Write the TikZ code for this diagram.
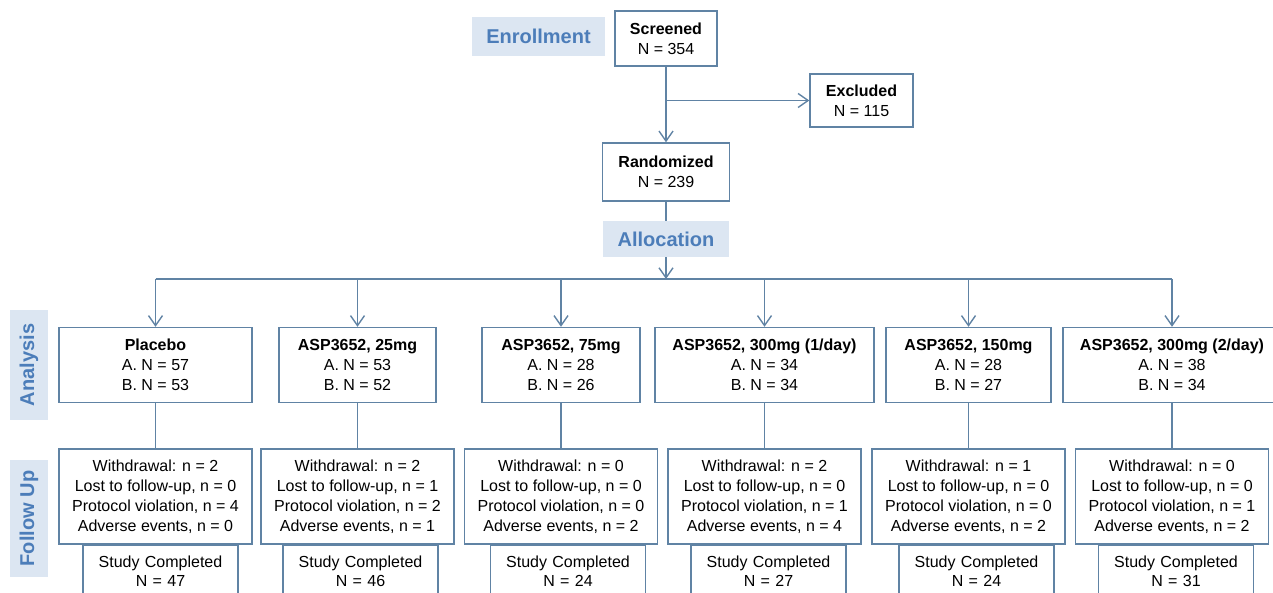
\documentclass[tikz,border=0pt]{standalone}
\usepackage{fontspec}
\setmainfont{Liberation Sans}
\usetikzlibrary{shapes,calc,positioning,arrows.meta}
\definecolor{flowline}{RGB}{96,131,164}
\definecolor{stagefill}{RGB}{220,230,242}
\definecolor{stagetext}{RGB}{76,125,185}
\tikzset{
  box/.style={draw=flowline,line width=1.4pt,fill=white,align=center,inner sep=0pt,
    font=\fontsize{16}{20}\selectfont},
  stage/.style={fill=stagefill,text=stagetext,inner sep=0pt,
    font=\fontsize{20}{24}\selectfont\bfseries},
  study/.style={draw=flowline,line width=1.4pt,align=center,text width=155pt,
    inner xsep=0pt,inner ysep=11pt,text depth=40pt,font=\fontsize{16}{19}\selectfont},
  conn/.style={draw=flowline,line width=1.4pt}
}

\begin{document}
\begin{tikzpicture}[x=1pt,y=1pt,node distance=100pt,>={Straight Barb[length=10pt,width=14pt]}]
    \useasboundingbox (0,0) rectangle (1273,-593);
    \clip (0,0) rectangle (1273,-593);
    \node[box,minimum width=102pt,minimum height=55pt] (screened) at (666,-38.5) {\textbf{Screened}\\N = 354};
    \node[stage,minimum width=133pt,minimum height=39pt] (enroll) at (538.5,-36.5) {Enrollment};
    \node[box,minimum width=103pt,minimum height=53pt] (excluded) at (861.5,-100.5) {\textbf{Excluded}\\N = 115};
    \node[box,below of=screened,node distance=133.5pt,minimum width=127pt,minimum height=58pt] (rand) {\textbf{Randomized}\\N = 239};
    \coordinate[below of=rand,node distance=107pt] (split);
    \node[stage,rotate=90,minimum width=110pt,minimum height=38pt] (analysis) at (29,-365) {Analysis};
    \node[stage,rotate=90,minimum width=117pt,minimum height=38pt] (followup) at (29,-518.5) {Follow Up};
    %
    \node[box,minimum width=193pt,minimum height=75pt] (an_plac) at (155.5,-365) {\textbf{Placebo}\\A. N = 57\\B. N = 53};
    \node[box,minimum width=157pt,minimum height=75pt] (an_d25) at (357.5,-365) {\textbf{ASP3652, 25mg}\\A. N = 53\\B. N = 52};
    \node[box,minimum width=158pt,minimum height=75pt] (an_d75) at (561,-365) {\textbf{ASP3652, 75mg}\\A. N = 28\\B. N = 26};
    \node[box,minimum width=219pt,minimum height=75pt] (an_d300a) at (764.5,-365) {\textbf{ASP3652, 300mg (1/day)}\\A. N = 34\\B. N = 34};
    \node[box,minimum width=165pt,minimum height=75pt] (an_d150) at (968.5,-365) {\textbf{ASP3652, 150mg}\\A. N = 28\\B. N = 27};
    \node[box,minimum width=218pt,minimum height=75pt] (an_d300b) at (1172,-365) {\textbf{ASP3652, 300mg (2/day)}\\A. N = 38\\B. N = 34};
    %
    \node[box,below of=an_plac,node distance=131.5pt,minimum width=193pt,minimum height=95pt] (fu_plac) {Withdrawal: n = 2\\Lost to follow-up, n = 0\\Protocol violation, n = 4\\Adverse events, n = 0};
    \node[box,below of=an_d25,node distance=131.5pt,minimum width=193pt,minimum height=95pt] (fu_d25) {Withdrawal: n = 2\\Lost to follow-up, n = 1\\Protocol violation, n = 2\\Adverse events, n = 1};
    \node[box,below of=an_d75,node distance=131.5pt,minimum width=193pt,minimum height=95pt] (fu_d75) {Withdrawal: n = 0\\Lost to follow-up, n = 0\\Protocol violation, n = 0\\Adverse events, n = 2};
    \node[box,below of=an_d300a,node distance=131.5pt,minimum width=193pt,minimum height=95pt] (fu_d300a) {Withdrawal: n = 2\\Lost to follow-up, n = 0\\Protocol violation, n = 1\\Adverse events, n = 4};
    \node[box,below of=an_d150,node distance=131.5pt,minimum width=193pt,minimum height=95pt] (fu_d150) {Withdrawal: n = 1\\Lost to follow-up, n = 0\\Protocol violation, n = 0\\Adverse events, n = 2};
    \node[box,below of=an_d300b,node distance=131.5pt,minimum width=193pt,minimum height=95pt] (fu_d300b) {Withdrawal: n = 0\\Lost to follow-up, n = 0\\Protocol violation, n = 1\\Adverse events, n = 2};
    %
    \node[study,below=0pt of fu_plac,xshift=5pt] (st_plac) {Study Completed\\N = 47};
    \node[study,below=0pt of fu_d25,xshift=3pt] (st_d25) {Study Completed\\N = 46};
    \node[study,below=0pt of fu_d75,xshift=7pt] (st_d75) {Study Completed\\N = 24};
    \node[study,below=0pt of fu_d300a,xshift=4pt] (st_d300a) {Study Completed\\N = 27};
    \node[study,below=0pt of fu_d150,xshift=8pt] (st_d150) {Study Completed\\N = 24};
    \node[study,below=0pt of fu_d300b,xshift=4pt] (st_d300b) {Study Completed\\N = 31};
    %

    \draw[conn,->] (screened) -- (rand);
    \draw[conn,->] (screened.south |- excluded) -- (excluded);
    \draw[conn,->] (rand) -- (split);
    \node[stage,below of=rand,node distance=67pt,minimum width=126pt,minimum height=36pt] (alloc) {Allocation};
    \draw[conn] (an_plac.north |- split) -- (an_d300b.north |- split);
    \draw[conn,->] (an_plac.north |- split) -- (an_plac);
    \draw[conn,->] (an_d25.north |- split) -- (an_d25);
    \draw[conn,->] (an_d75.north |- split) -- (an_d75);
    \draw[conn,->] (an_d300a.north |- split) -- (an_d300a);
    \draw[conn,->] (an_d150.north |- split) -- (an_d150);
    \draw[conn,->] (an_d300b.north |- split) -- (an_d300b);
    \draw[conn] (an_plac) -- (fu_plac);
    \draw[conn] (an_d25) -- (fu_d25);
    \draw[conn] (an_d75) -- (fu_d75);
    \draw[conn] (an_d300a) -- (fu_d300a);
    \draw[conn] (an_d150) -- (fu_d150);
    \draw[conn] (an_d300b) -- (fu_d300b);
\end{tikzpicture}
\end{document}
